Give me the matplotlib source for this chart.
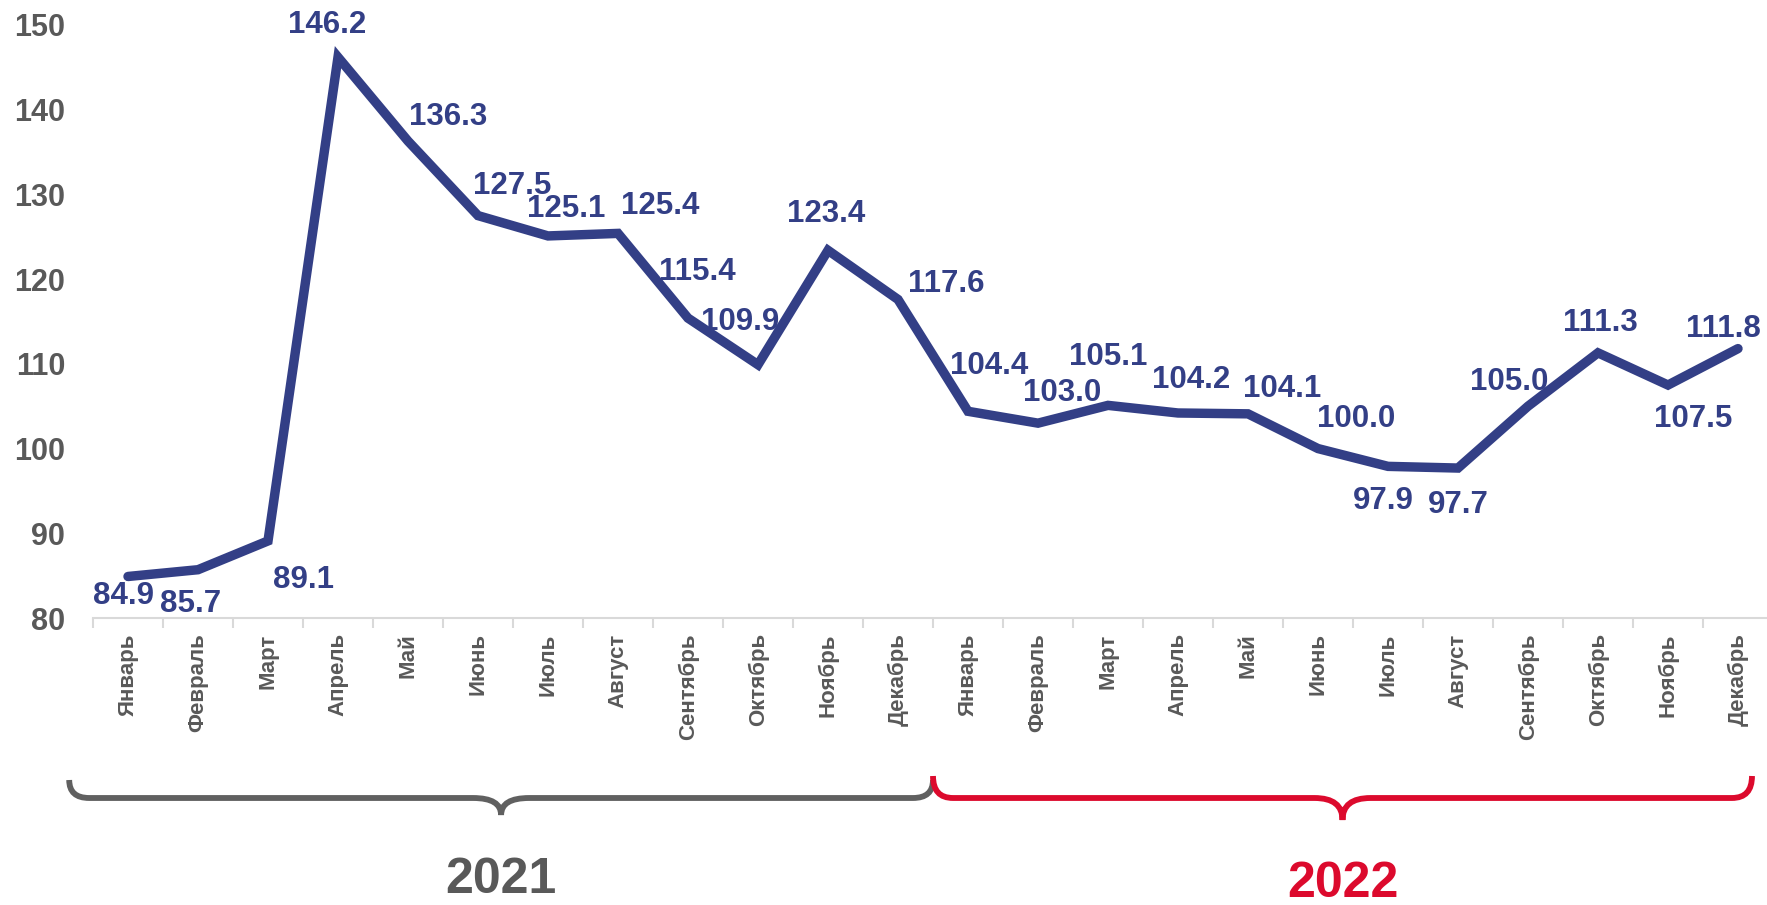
import numpy as np
import matplotlib
matplotlib.use('Agg')
import matplotlib.pyplot as plt
from matplotlib.path import Path
from matplotlib.patches import PathPatch

plt.rcParams['font.family'] = ['Liberation Sans', 'DejaVu Sans']

# данные
months = ['Январь', 'Февраль', 'Март', 'Апрель', 'Май', 'Июнь', 'Июль',
          'Август', 'Сентябрь', 'Октябрь', 'Ноябрь', 'Декабрь']
years = ['2021', '2022']
values = [84.9, 85.7, 89.1, 146.2, 136.3, 127.5, 125.1, 125.4, 115.4, 109.9, 123.4, 117.6,
          104.4, 103.0, 105.1, 104.2, 104.1, 100.0, 97.9, 97.7, 105.0, 111.3, 107.5, 111.8]
labels = months * len(years)

# смещения подписей (пиксели, dx, dy вниз)
offs = [(-5, 20), (-7, 34), (35, 39), (-11, -32), (40, -24), (34, -30), (18, -27),
        (42, -27), (9, -46), (-18, -43), (-2, -36), (48, -15), (21, -45), (24, -30),
        (0, -48), (13, -33), (34, -25), (38, -30), (-5, 35), (0, 37), (-19, -24),
        (2, -30), (25, 34), (-15, -20)]

blue = '#333F86'
gray = '#595959'
red = '#DC0A2D'

W, H = 1767, 905
fig = plt.figure(figsize=(W / 100, H / 100), dpi=100)
ax = fig.add_axes([93 / W, 1 - 618 / H, 1680 / W, (618 - 25) / H])

x = np.arange(len(values))
ax.plot(x, values, color=blue, lw=6.8, solid_capstyle='round', solid_joinstyle='miter', clip_on=False)

for i, v in enumerate(values):
    dx, dy = offs[i]
    ax.annotate(f'{v:.1f}', (i, v), xytext=(dx, -dy), textcoords='offset pixels',
                ha='center', va='center', fontsize=22.5, fontweight='bold', color=blue)

ax.set_xlim(-0.5, len(values) - 0.5)
ax.set_ylim(80, 150)
ax.set_yticks(range(80, 151, 10))
ax.set_xticks(x)
ax.set_xticklabels(labels, rotation=90, fontsize=16, fontweight='bold', color=gray)
ax.set_xticks(np.arange(-0.5, len(values)), minor=True)
ax.tick_params(axis='x', which='major', length=0, pad=11)
ax.tick_params(axis='x', which='minor', length=7, width=1.5, color='#D9D9D9')
ax.tick_params(axis='y', length=0, pad=20, labelsize=22, labelcolor=gray)
for t in ax.get_yticklabels():
    t.set_fontweight('bold')
for s in ['left', 'right', 'top']:
    ax.spines[s].set_visible(False)
ax.spines['bottom'].set_color('#D9D9D9')
ax.spines['bottom'].set_linewidth(1.5)

# фигурные скобки по годам
ov = fig.add_axes([0, 0, 1, 1], zorder=-1)
ov.set_xlim(0, W)
ov.set_ylim(H, 0)
ov.axis('off')


def px(xd):
    return ax.transData.transform((xd, 80))[0]


def brace(x0, x1, top, bar, tip, color):
    cx = (x0 + x1) / 2
    r, r2 = 20, 28
    verts = [(x0, top), (x0, bar), (x0 + r, bar),
             (cx - r2, bar), (cx, bar), (cx, tip),
             (cx, bar), (cx + r2, bar),
             (x1 - r, bar), (x1, bar), (x1, top)]
    codes = [Path.MOVETO, Path.CURVE3, Path.CURVE3,
             Path.LINETO, Path.CURVE3, Path.CURVE3,
             Path.CURVE3, Path.CURVE3,
             Path.LINETO, Path.CURVE3, Path.CURVE3]
    ov.add_patch(PathPatch(Path(verts, codes), fill=False, edgecolor=color, lw=4.2,
                           capstyle='butt'))
    return cx


n = len(months)
cx1 = brace(px(-0.84), px(n - 0.5), 780, 798, 815, '#606060')
cx2 = brace(px(n - 0.5), px(2 * n - 0.8), 776, 798, 820, red)

ov.text(cx1, 880, years[0], ha='center', va='center', fontsize=36, fontweight='bold',
        color=gray)
ov.text(cx2, 884, years[1], ha='center', va='center', fontsize=36, fontweight='bold',
        color=red)

fig.savefig('out.png', dpi=100)
